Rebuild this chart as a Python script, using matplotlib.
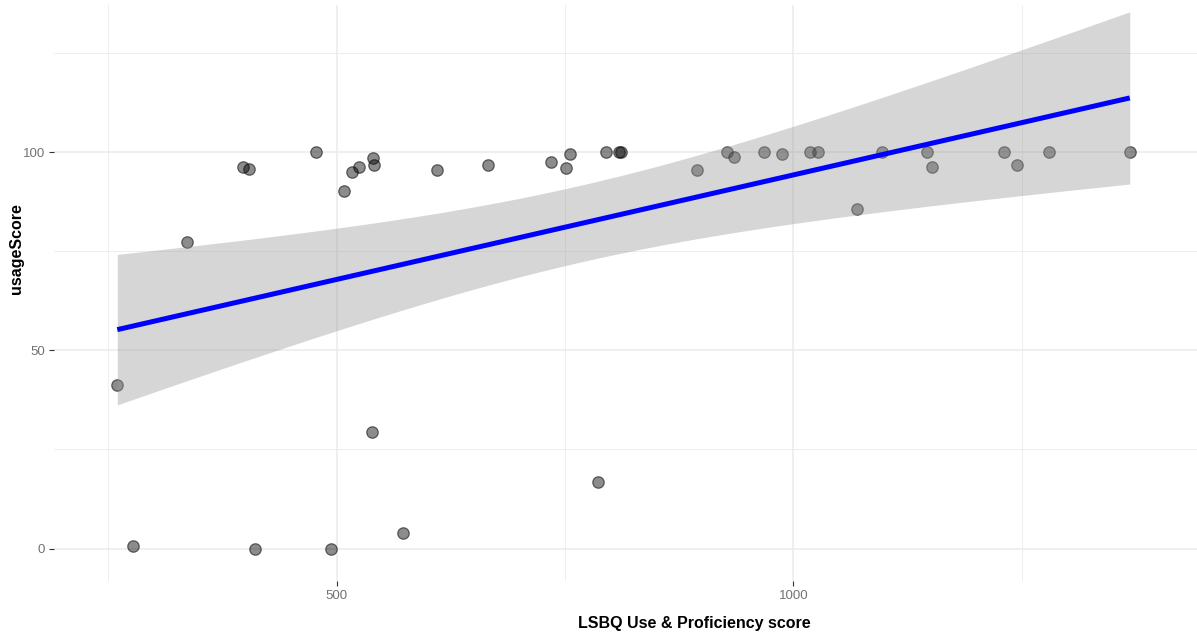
import numpy as np
import matplotlib
matplotlib.use("Agg")
import matplotlib.pyplot as plt

plt.rcParams['font.family'] = ['Liberation Sans', 'DejaVu Sans']

# LSBQ use & proficiency score vs. usage score per participant
lsbq = [259.7, 277.3, 335.7, 397.7, 404.3, 410.9, 477.3, 493.4, 507.7, 516.4,
        524.7, 540.1, 540.8, 538.3, 572.6, 609.8, 666.0, 734.7, 751.4, 755.5,
        786.1, 794.9, 809.5, 811.0, 894.5, 927.1, 935.1, 968.2, 987.6, 1018.3,
        1027.4, 1069.4, 1097.3, 1146.4, 1152.2, 1230.4, 1244.6, 1280.3, 1368.4]
usage = [41.2, 0.7, 77.3, 96.2, 95.7, 0.0, 100.0, 0.0, 90.2, 95.0,
         96.2, 98.7, 96.8, 29.4, 3.8, 95.5, 96.8, 97.5, 96.0, 99.6,
         16.8, 100.0, 100.0, 100.0, 95.5, 100.0, 98.9, 100.0, 99.6, 100.0,
         100.0, 85.6, 100.0, 100.0, 96.2, 100.0, 96.7, 100.0, 100.0]

x_ticks = [500, 1000]
y_ticks = [0, 50, 100]
x_minor = [250, 750, 1250]
y_minor = [25, 75, 125]

x = np.array(lsbq)
y = np.array(usage)

# ordinary least squares fit with 95% confidence band
n = len(x)
X = np.column_stack([np.ones(n), x])
beta, *_ = np.linalg.lstsq(X, y, rcond=None)
resid = y - X @ beta
sigma2 = resid @ resid / (n - 2)
XtX_inv = np.linalg.inv(X.T @ X)
t_crit = 2.026  # t(0.975, df=37)
xs = np.linspace(x.min(), x.max(), 80)
Xs = np.column_stack([np.ones_like(xs), xs])
fit = Xs @ beta
se = np.sqrt(np.einsum('ij,jk,ik->i', Xs, XtX_inv, Xs) * sigma2)
lo, hi = fit - t_crit * se, fit + t_crit * se

W, H = 1197, 636
fig = plt.figure(figsize=(W / 100, H / 100), dpi=100)
ax = fig.add_axes([54 / W, 55 / H, (W - 54) / W, (581 - 5) / H])

ax.set_xlim(190.4, 1442)
ax.set_ylim(-8.2, 137.2)

for v in x_minor:
    ax.axvline(v, color='#EBEBEB', lw=0.6, zorder=0)
for v in y_minor:
    ax.axhline(v, color='#EBEBEB', lw=0.6, zorder=0)
for v in x_ticks:
    ax.axvline(v, color='#EBEBEB', lw=1.1, zorder=0)
for v in y_ticks:
    ax.axhline(v, color='#EBEBEB', lw=1.1, zorder=0)

ax.scatter(x, y, s=68, facecolor=(0, 0, 0, 0.45), edgecolor=(0, 0, 0, 0.55),
           linewidth=0.9, zorder=2)
ax.fill_between(xs, lo, hi, color='#999999', alpha=0.4, linewidth=0, zorder=3)
ax.plot(xs, fit, color='#0000FF', lw=3.6, zorder=4, solid_capstyle='butt')

ax.set_xticks(x_ticks)
ax.set_yticks(y_ticks)
ax.set_xticklabels([str(t) for t in x_ticks])
ax.set_yticklabels([str(t) for t in y_ticks])
ax.tick_params(axis='both', colors='#333333', labelcolor='#727272',
               labelsize=9.5, length=3.5, width=0.8, pad=3)
for sp in ax.spines.values():
    sp.set_visible(False)

fig.text(694 / W, 1 - 623.5 / H, 'LSBQ Use & Proficiency score', fontsize=11.5,
         fontweight='bold', color='black', ha='center', va='center')
fig.text(17 / W, 1 - 249 / H, 'usageScore', fontsize=11.5, fontweight='bold',
         color='black', ha='center', va='center', rotation=90)

fig.savefig('out.png', dpi=100)
